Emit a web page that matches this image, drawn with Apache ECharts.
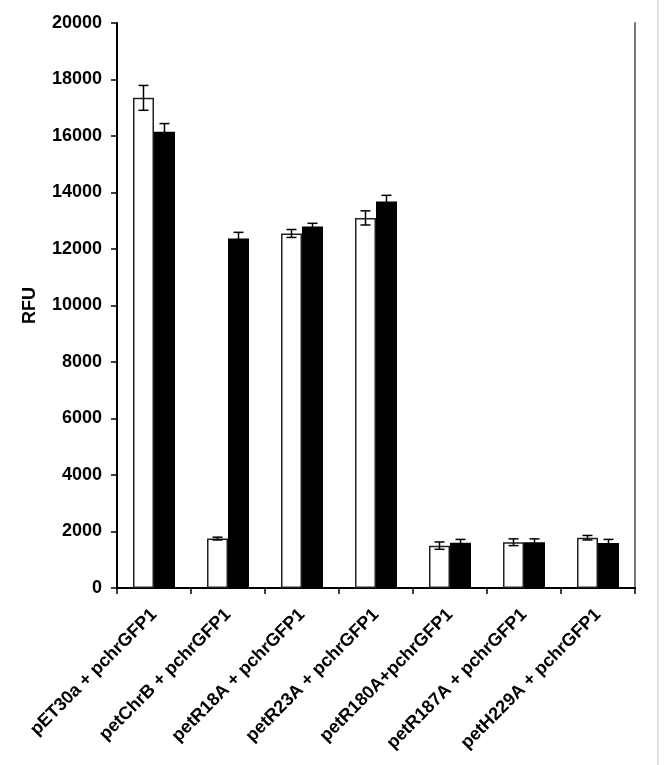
<!DOCTYPE html>
<html>
<head>
<meta charset="utf-8">
<script src="https://cdn.jsdelivr.net/npm/echarts@6/dist/echarts.min.js"></script>
<style>html,body{margin:0;padding:0;background:#fff;}#c{width:664px;height:765px;}</style>
</head>
<body>
<div id="c"></div>
<script>
const categories = ['pET30a + pchrGFP1', 'petChrB + pchrGFP1', 'petR18A + pchrGFP1', 'petR23A + pchrGFP1', 'petR180A+pchrGFP1', 'petR187A + pchrGFP1', 'petH229A + pchrGFP1'];
const whiteValues = [17350, 1750, 12550, 13100, 1500, 1620, 1780];
const whiteErrors = [440, 50, 140, 250, 130, 120, 80];
const blackValues = [16150, 12370, 12800, 13680, 1600, 1620, 1590];
const blackErrors = [290, 220, 110, 220, 120, 120, 130];
const yMin = 0, yMax = 20000, yStep = 2000;

const BAR_W = 21;
const FONT = '"Liberation Sans", Arial, sans-serif';

function errData(vals, errs) {
  return vals.map((v, i) => [i, v - errs[i], v + errs[i]]);
}
function errSeries(vals, errs, offset) {
  return {
    type: 'custom',
    data: errData(vals, errs),
    encode: { x: 0, y: [1, 2] },
    z: 5,
    renderItem: function (params, api) {
      const i = api.value(0);
      const lo = api.coord([i, api.value(1)]);
      const hi = api.coord([i, api.value(2)]);
      const x = lo[0] + offset;
      const cap = 5;
      const st = { stroke: '#000', lineWidth: 1.5, fill: null };
      return {
        type: 'group',
        children: [
          { type: 'line', shape: { x1: x, y1: lo[1], x2: x, y2: hi[1] }, style: st },
          { type: 'line', shape: { x1: x - cap, y1: lo[1], x2: x + cap, y2: lo[1] }, style: st },
          { type: 'line', shape: { x1: x - cap, y1: hi[1], x2: x + cap, y2: hi[1] }, style: st }
        ]
      };
    }
  };
}

const chart = echarts.init(document.getElementById('c'), null, { renderer: 'canvas' });
chart.setOption({
  backgroundColor: '#fff',
  animation: false,
  grid: { left: 117, right: 29, top: 23, bottom: 177, containLabel: false },
  graphic: [
    { type: 'line', shape: { x1: 658, y1: 0, x2: 658, y2: 765 }, style: { stroke: '#e3e3e3', lineWidth: 2 } }
  ],
  xAxis: [
    {
      type: 'category',
      data: categories,
      axisLine: { show: true, lineStyle: { color: '#000', width: 2 } },
      axisTick: { show: true, length: 6, lineStyle: { color: '#000', width: 1.5 } },
      axisLabel: { rotate: 45, margin: 24, color: '#000', fontFamily: FONT, fontWeight: 'bold', fontSize: 18, interval: 0 }
    },
    {
      type: 'category',
      data: categories,
      position: 'top',
      axisLine: { show: true, lineStyle: { color: '#000', width: 1.5 } },
      axisTick: { show: false },
      axisLabel: { show: false }
    }
  ],
  yAxis: [
    {
      type: 'value',
      min: yMin, max: yMax, interval: yStep,
      name: 'RFU',
      nameLocation: 'middle',
      nameRotate: 90,
      nameGap: 78,
      nameTextStyle: { color: '#000', fontFamily: FONT, fontWeight: 'bold', fontSize: 18 },
      splitLine: { show: false },
      axisLine: { show: true, lineStyle: { color: '#000', width: 2 } },
      axisTick: { show: true, length: 6, lineStyle: { color: '#000', width: 1.5 } },
      axisLabel: { margin: 15, color: '#000', fontFamily: FONT, fontWeight: 'bold', fontSize: 18, formatter: function (v) { return String(v); } }
    },
    {
      type: 'value',
      min: yMin, max: yMax, interval: yStep,
      position: 'right',
      splitLine: { show: false },
      axisLine: { show: true, lineStyle: { color: '#777', width: 2 } },
      axisTick: { show: false },
      axisLabel: { show: false }
    }
  ],
  series: [
    {
      type: 'bar',
      data: whiteValues,
      barWidth: BAR_W,
      barGap: '0%',
      itemStyle: { color: '#fff', borderColor: '#222', borderWidth: 1.5 },
      z: 2
    },
    {
      type: 'bar',
      data: blackValues,
      barWidth: BAR_W,
      barGap: '0%',
      itemStyle: { color: '#000', borderColor: '#000', borderWidth: 0 },
      z: 2
    },
    errSeries(whiteValues, whiteErrors, -BAR_W / 2),
    errSeries(blackValues, blackErrors, BAR_W / 2)
  ]
});
</script>
</body>
</html>
